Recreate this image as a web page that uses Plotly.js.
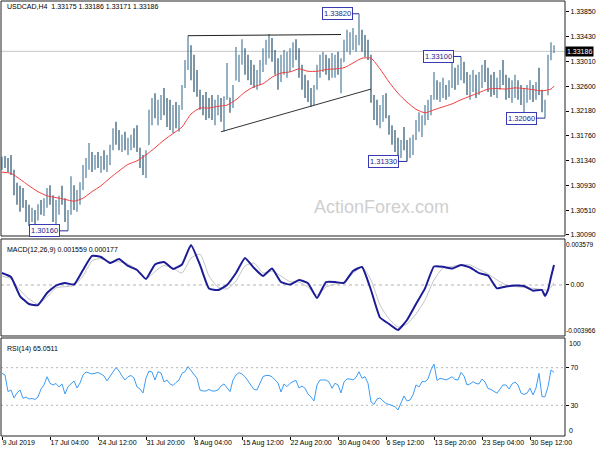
<!DOCTYPE html>
<html>
<head>
<meta charset="utf-8">
<script src="https://cdn.plot.ly/plotly-3.0.1.min.js"></script>
<style>html,body{margin:0;padding:0;background:#fff;}#chart{width:600px;height:450px;}</style>
</head>
<body>
<div id="chart"></div>
<script>
// ---------- DATA ----------
const tickIdx = [0,16,32,48,64,80,96,112,128,144,160,176];
const tickLabels = ["9 Jul 2019","17 Jul 04:00","24 Jul 12:00","31 Jul 20:00","8 Aug 04:00","15 Aug 12:00","22 Aug 20:00","30 Aug 04:00","6 Sep 12:00","13 Sep 20:00","23 Sep 04:00","30 Sep 12:00"];
const priceTicks = [1.3385,1.3343,1.3301,1.3260,1.3218,1.3176,1.3134,1.3093,1.3051,1.3009];

const open = [1.3128,1.3131,1.3129,1.3124,1.3112,1.3085,1.3072,1.3066,1.3060,1.3045,
1.3038,1.3045,1.3034,1.3055,1.3052,1.3066,1.3078,1.3065,1.3045,1.3058,
1.3070,1.3065,1.3040,1.3045,1.3085,1.3066,1.3075,1.3092,1.3118,1.3133,
1.3138,1.3128,1.3137,1.3130,1.3134,1.3128,1.3140,1.3158,1.3180,1.3172,
1.3165,1.3170,1.3160,1.3166,1.3175,1.3170,1.3152,1.3130,1.3125,1.3161,
1.3210,1.3225,1.3220,1.3222,1.3230,1.3225,1.3212,1.3208,1.3210,1.3206,
1.3222,1.3258,1.3298,1.3310,1.3290,1.3272,1.3250,1.3232,1.3228,1.3225,
1.3224,1.3220,1.3222,1.3224,1.3216,1.3238,1.3240,1.3235,1.3270,1.3295,
1.3302,1.3312,1.3295,1.3288,1.3280,1.3274,1.3278,1.3292,1.3310,1.3322,
1.3326,1.3310,1.3290,1.3286,1.3295,1.3298,1.3300,1.3308,1.3318,1.3310,
1.3287,1.3266,1.3256,1.3246,1.3243,1.3258,1.3285,1.3298,1.3298,1.3292,
1.3292,1.3294,1.3296,1.3290,1.3301,1.3328,1.3335,1.3336,1.3336,1.3343,
1.3346,1.3332,1.3325,1.3310,1.3240,1.3220,1.3212,1.3216,1.3225,1.3210,
1.3186,1.3172,1.3160,1.3154,1.3163,1.3160,1.3154,1.3158,1.3172,1.3194,
1.3196,1.3202,1.3216,1.3224,1.3240,1.3258,1.3252,1.3254,1.3254,1.3253,
1.3268,1.3277,1.3276,1.3285,1.3287,1.3274,1.3262,1.3263,1.3265,1.3262,
1.3271,1.3282,1.3279,1.3266,1.3263,1.3261,1.3264,1.3277,1.3270,1.3257,
1.3254,1.3256,1.3257,1.3250,1.3240,1.3242,1.3250,1.3251,1.3250,1.3260,
1.3250,1.3228,1.3245,1.3304,1.3318];

const high = [1.3141,1.3142,1.3139,1.3144,1.3119,1.3097,1.3092,1.3088,1.3068,1.3060,
1.3055,1.3051,1.3061,1.3068,1.3071,1.3088,1.3093,1.3076,1.3068,1.3075,
1.3092,1.3071,1.3051,1.3108,1.3093,1.3085,1.3098,1.3127,1.3139,1.3164,
1.3149,1.3144,1.3149,1.3142,1.3152,1.3144,1.3161,1.3189,1.3200,1.3186,
1.3178,1.3183,1.3173,1.3178,1.3189,1.3194,1.3156,1.3144,1.3152,1.3220,
1.3240,1.3248,1.3237,1.3245,1.3257,1.3240,1.3237,1.3228,1.3233,1.3228,
1.3262,1.3304,1.3345,1.3329,1.3313,1.3287,1.3254,1.3245,1.3250,1.3240,
1.3245,1.3237,1.3245,1.3240,1.3243,1.3299,1.3240,1.3262,1.3326,1.3313,
1.3339,1.3324,1.3313,1.3304,1.3296,1.3287,1.3304,1.3324,1.3338,1.3348,
1.3341,1.3321,1.3307,1.3313,1.3321,1.3318,1.3324,1.3334,1.3339,1.3324,
1.3296,1.3279,1.3270,1.3257,1.3262,1.3296,1.3313,1.3318,1.3313,1.3307,
1.3316,1.3313,1.3318,1.3307,1.3338,1.3355,1.3351,1.3358,1.3346,1.3382,
1.3355,1.3346,1.3338,1.3313,1.3245,1.3237,1.3228,1.3245,1.3248,1.3211,
1.3194,1.3186,1.3173,1.3169,1.3191,1.3169,1.3173,1.3178,1.3203,1.3216,
1.3211,1.3228,1.3237,1.3245,1.3284,1.3270,1.3267,1.3274,1.3262,1.3270,
1.3304,1.3291,1.3296,1.3310,1.3301,1.3284,1.3279,1.3287,1.3279,1.3284,
1.3296,1.3304,1.3291,1.3279,1.3284,1.3274,1.3287,1.3304,1.3279,1.3274,
1.3270,1.3279,1.3270,1.3262,1.3257,1.3262,1.3270,1.3262,1.3267,1.3291,
1.3254,1.3237,1.3313,1.3334,1.3329];

const low = [1.3119,1.3122,1.3115,1.3110,1.3076,1.3060,1.3048,1.3055,1.3031,1.3024,
1.3031,1.3021,1.3034,1.3043,1.3041,1.3055,1.3060,1.3031,1.3026,1.3043,
1.3060,1.3031,1.3016,1.3043,1.3051,1.3048,1.3060,1.3085,1.3105,1.3119,
1.3115,1.3119,1.3122,1.3114,1.3119,1.3115,1.3127,1.3152,1.3161,1.3152,
1.3149,1.3152,1.3144,1.3152,1.3156,1.3149,1.3122,1.3110,1.3105,1.3161,
1.3194,1.3206,1.3194,1.3203,1.3211,1.3191,1.3186,1.3181,1.3189,1.3183,
1.3220,1.3257,1.3287,1.3270,1.3250,1.3242,1.3220,1.3211,1.3203,1.3206,
1.3203,1.3194,1.3211,1.3200,1.3183,1.3237,1.3215,1.3223,1.3270,1.3267,
1.3296,1.3279,1.3270,1.3262,1.3257,1.3254,1.3262,1.3284,1.3296,1.3307,
1.3301,1.3279,1.3254,1.3267,1.3279,1.3274,1.3284,1.3291,1.3304,1.3274,
1.3254,1.3240,1.3233,1.3225,1.3228,1.3254,1.3274,1.3284,1.3279,1.3270,
1.3274,1.3274,1.3279,1.3248,1.3301,1.3318,1.3313,1.3321,1.3318,1.3329,
1.3318,1.3309,1.3304,1.3232,1.3203,1.3194,1.3189,1.3200,1.3206,1.3178,
1.3161,1.3149,1.3135,1.3139,1.3152,1.3133,1.3139,1.3144,1.3169,1.3183,
1.3174,1.3194,1.3203,1.3211,1.3237,1.3237,1.3233,1.3240,1.3237,1.3242,
1.3257,1.3254,1.3262,1.3270,1.3265,1.3245,1.3237,1.3250,1.3240,1.3245,
1.3257,1.3267,1.3250,1.3242,1.3245,1.3240,1.3254,1.3262,1.3237,1.3240,
1.3232,1.3240,1.3237,1.3228,1.3215,1.3232,1.3237,1.3233,1.3237,1.3245,
1.3216,1.3206,1.3245,1.3304,1.3316];

const close = [1.3131,1.3129,1.3124,1.3112,1.3085,1.3072,1.3066,1.3060,1.3045,1.3038,
1.3045,1.3030,1.3055,1.3052,1.3066,1.3078,1.3065,1.3045,1.3058,1.3070,
1.3065,1.3040,1.3045,1.3085,1.3066,1.3075,1.3092,1.3118,1.3133,1.3138,
1.3128,1.3137,1.3130,1.3134,1.3128,1.3140,1.3158,1.3180,1.3172,1.3165,
1.3170,1.3160,1.3166,1.3175,1.3170,1.3152,1.3130,1.3125,1.3150,1.3210,
1.3225,1.3220,1.3222,1.3230,1.3225,1.3212,1.3208,1.3210,1.3206,1.3222,
1.3258,1.3298,1.3310,1.3290,1.3272,1.3250,1.3232,1.3228,1.3225,1.3224,
1.3220,1.3222,1.3224,1.3216,1.3238,1.3245,1.3235,1.3258,1.3295,1.3302,
1.3312,1.3295,1.3288,1.3280,1.3274,1.3278,1.3292,1.3310,1.3322,1.3326,
1.3310,1.3290,1.3286,1.3295,1.3298,1.3300,1.3308,1.3318,1.3310,1.3287,
1.3266,1.3256,1.3246,1.3243,1.3258,1.3285,1.3298,1.3298,1.3292,1.3292,
1.3294,1.3296,1.3290,1.3300,1.3328,1.3335,1.3336,1.3336,1.3343,1.3346,
1.3332,1.3325,1.3310,1.3240,1.3220,1.3212,1.3216,1.3225,1.3210,1.3186,
1.3172,1.3160,1.3154,1.3163,1.3160,1.3154,1.3158,1.3172,1.3194,1.3196,
1.3202,1.3216,1.3224,1.3240,1.3258,1.3252,1.3254,1.3254,1.3253,1.3268,
1.3277,1.3276,1.3285,1.3287,1.3274,1.3262,1.3263,1.3265,1.3262,1.3271,
1.3282,1.3279,1.3266,1.3263,1.3261,1.3264,1.3277,1.3270,1.3257,1.3254,
1.3256,1.3257,1.3250,1.3240,1.3242,1.3250,1.3251,1.3250,1.3260,1.3250,
1.3228,1.3235,1.3300,1.3322,1.33186];

const maIdx = [0,3,6,9,12,15,18,21,24,27,30,33,36,39,42,45,48,51,54,57,60,63,66,69,72,75,78,81,84,87,90,93,96,99,102,105,108,111,114,117,120,123,126,129,132,135,138,141,144,147,150,153,156,159,162,165,168,171,174,177,180,183,184];
const ma = [1.3115,1.3113,1.3103,1.3092,1.3082,1.3075,1.3072,1.3069,1.3066,1.3071,
1.3082,1.3092,1.3105,1.3117,1.3128,1.3134,1.3144,1.3156,1.3169,1.3180,
1.3191,1.3213,1.3223,1.3223,1.3226,1.3228,1.3237,1.3250,1.3259,1.3264,
1.3275,1.3282,1.3284,1.3289,1.3285,1.3285,1.3288,1.3289,1.3291,1.3299,
1.3307,1.3307,1.3289,1.3267,1.3248,1.3233,1.3221,1.3215,1.3220,1.3225,
1.3230,1.3237,1.3243,1.3249,1.3255,1.3256,1.3255,1.3257,1.3256,1.3254,
1.3252,1.3255,1.3260];

const macdIdx = [0,3,6,9,12,15,18,21,24,27,30,33,36,39,42,45,48,51,54,57,60,63,66,69,72,75,78,81,84,87,90,93,96,99,102,105,108,111,114,117,120,123,126,129,132,135,138,141,144,147,150,153,156,159,162,165,168,171,174,177,180,181,182,183,184];
const macdMain = [0.00093,0.00062,-0.00086,-0.00148,-0.00156,-0.00062,-0.00004,0.00016,0.00004,0.00117,
0.00226,0.00218,0.00171,0.00202,0.00148,0.00117,0.00047,0.0016,0.00179,0.00125,
0.0016,0.00311,0.00156,-0.00027,-0.00039,0.0,0.00093,0.0021,0.00132,0.0007,
0.00128,0.00023,0.00004,0.00039,0.00013,-0.00101,0.00023,0.00023,0.00016,0.00109,
0.0014,-0.00039,-0.00253,-0.00303,-0.0035,-0.00272,-0.00148,-0.00026,0.00144,0.00142,
0.00128,0.00156,0.00136,0.00093,0.00074,-0.00026,-0.00012,-0.00004,-0.00008,-0.00044,
-0.00039,-0.00086,-0.00039,0.00062,0.001559];
const macdSignal = [0.0007,0.00047,-0.00039,-0.00109,-0.00148,-0.00093,-0.00023,-0.00013,-0.00004,0.0007,
0.00187,0.00206,0.00181,0.00181,0.00163,0.00117,0.00047,0.00105,0.00152,0.0013,
0.00093,0.0021,0.0024,0.0007,-0.00016,-0.00031,0.00031,0.00148,0.00171,0.00093,
0.00109,0.0007,0.00026,0.00023,-0.00016,-0.00078,-0.00016,0.00008,0.00023,0.00091,
0.0014,0.00039,-0.00156,-0.00264,-0.00327,-0.00303,-0.00226,-0.00117,0.00039,0.00132,
0.00144,0.00156,0.00156,0.00122,0.00086,0.00039,0.0,-0.00012,-0.00019,-0.00026,
-0.00035,-0.00039,-0.00039,-0.00016,0.000177];

const rsi = [64.0,62.2,44.5,46.3,37.8,43.1,46.3,37.4,38.8,36.7,
37.2,36.2,38.8,47.3,51.6,60.4,53.4,51.6,53.2,49.5,
52.7,42.0,49.8,52.7,55.9,48.4,53.7,62.2,65.4,64.4,
63.3,64.0,64.9,63.3,61.2,55.9,60.1,65.4,70.2,66.5,
61.2,56.9,60.4,61.7,59.0,49.5,47.3,43.1,59.0,66.5,
65.4,56.9,65.7,64.4,54.8,56.9,52.7,51.1,54.3,56.9,
64.0,65.7,71.1,66.5,62.8,58.7,46.3,45.2,45.2,46.8,
45.2,45.2,46.3,50.5,52.7,48.1,44.5,56.9,62.2,64.7,
63.3,60.4,55.9,51.6,46.8,46.3,53.7,60.6,61.7,61.7,
60.4,57.4,53.7,44.1,52.7,49.8,53.2,55.3,56.4,48.4,
50.5,48.1,42.0,38.8,34.6,51.6,56.9,56.9,56.9,54.8,
48.1,53.4,51.6,43.1,54.8,58.0,58.0,56.9,59.6,65.7,
58.7,60.4,53.4,33.5,30.9,36.7,37.8,34.6,31.9,30.9,
29.8,28.5,25.0,33.5,39.9,34.6,35.6,41.0,51.6,49.5,
55.1,55.1,58.0,67.6,73.9,56.4,58.7,58.0,56.9,58.5,
60.4,57.4,56.9,64.9,61.2,51.6,52.7,55.1,53.2,52.7,
58.0,54.8,47.9,46.8,45.2,42.8,47.3,51.6,51.6,47.3,
52.7,54.8,51.6,43.1,41.5,42.8,48.1,41.0,48.4,64.0,
39.1,39.1,49.8,67.6,65.05];
const rsiLevels = [70, 30];

// trend lines drawn on the chart (bar index, price)
const resistX = [62, 113];
const resistY = [1.3345, 1.3347];
const supportX = [73, 123];
const supportY = [1.3183, 1.3255];

// marked swing points: [bar index, 'high'|'low', label offset px]
const swings = [[119,'high',-22],[153,'high',-23],[181,'low',-24],[135,'low',-24],[22,'low',-24]];

const headerText = "USDCAD,H4  1.33175 1.33186 1.33171 1.33186";
const macdText = "MACD(12,26,9) 0.001559 0.000177";
const rsiText = "RSI(14) 65.0511";
const macdMax = 0.003579, macdMin = -0.003966;

// ---------- PLOT ----------
const barIdx = close.map((_, i) => i);
const last = close[close.length - 1];
const FONT = 'Liberation Sans, Arial, sans-serif';

const traces = [
  {type:'ohlc', x:barIdx, open:open, high:high, low:low, close:close, xaxis:'x', yaxis:'y',
   increasing:{line:{color:'#4f7e9c', width:1.2}},
   decreasing:{line:{color:'#27536f', width:1.2}},
   tickwidth:0.2, hoverinfo:'skip'},
  {type:'scatter', mode:'lines', x:maIdx, y:ma, yaxis:'y', line:{color:'#f04040', width:1, shape:'spline', smoothing:0.6}, hoverinfo:'skip'},
  {type:'scatter', mode:'lines', x:resistX, y:resistY, yaxis:'y', line:{color:'#222', width:1}, hoverinfo:'skip'},
  {type:'scatter', mode:'lines', x:supportX, y:supportY, yaxis:'y', line:{color:'#333', width:1}, hoverinfo:'skip'},
  {type:'scatter', mode:'lines', x:macdIdx, y:macdSignal, yaxis:'y2', line:{color:'#c4c4c4', width:1, shape:'spline', smoothing:0.6}, hoverinfo:'skip'},
  {type:'scatter', mode:'lines', x:macdIdx, y:macdMain, yaxis:'y2', line:{color:'#1c1c96', width:2, shape:'spline', smoothing:0.4}, hoverinfo:'skip'},
  {type:'scatter', mode:'lines', x:barIdx, y:rsi, yaxis:'y3', line:{color:'#3d9cf5', width:1}, hoverinfo:'skip'}
];

const axisCommon = {showgrid:false, zeroline:false, showline:false, ticks:'outside', ticklen:3, tickcolor:'#000', side:'right', anchor:'x', fixedrange:true, tickfont:{size:7, color:'#000', family:FONT}};

const shapes = [];
shapes.push({type:'line', xref:'paper', x0:0, x1:1, yref:'y', y0:last, y1:last, line:{color:'#c8c8c8', width:1}, layer:'below'});
shapes.push({type:'line', xref:'paper', x0:0, x1:1, yref:'y2', y0:0, y1:0, line:{color:'#b4b4b4', width:1, dash:'3px,3px'}, layer:'below'});
rsiLevels.forEach(v => shapes.push({type:'line', xref:'paper', x0:0, x1:1, yref:'y3', y0:v, y1:v, line:{color:'#b4b4b4', width:1, dash:'2px,3px'}, layer:'below'}));
['y domain','y2 domain','y3 domain'].forEach(r => shapes.push({type:'rect', xref:'paper', x0:0, x1:1, yref:r, y0:0, y1:1, line:{color:'#222', width:1}, fillcolor:'rgba(0,0,0,0)'}));

const annotations = [
  {xref:'paper', yref:'paper', x:0.007, y:0.987, xanchor:'left', yanchor:'middle', text:headerText, showarrow:false, font:{size:7, color:'#000', family:FONT}},
  {xref:'paper', yref:'y2 domain', x:0.007, y:0.95, xanchor:'left', yanchor:'top', text:macdText, showarrow:false, font:{size:7, color:'#000', family:FONT}},
  {xref:'paper', yref:'y3 domain', x:0.007, y:0.95, xanchor:'left', yanchor:'top', text:rsiText, showarrow:false, font:{size:7, color:'#000', family:FONT}},
  {xref:'paper', yref:'paper', x:0.6755, y:0.526, xanchor:'center', yanchor:'middle', text:'ActionForex.com', showarrow:false, font:{size:18, color:'#cfcfcf', family:FONT}},
  {xref:'paper', yref:'y', x:1, xanchor:'left', xshift:0, y:last, yanchor:'middle', text:last.toFixed(5), showarrow:false, bgcolor:'#000', font:{size:7, color:'#fff', family:FONT}, borderpad:1},
  {xref:'paper', yref:'y2', x:1, xanchor:'left', xshift:-1, y:macdMax, yanchor:'top', text:macdMax.toFixed(6), showarrow:false, font:{size:6.5, color:'#000', family:FONT}},
  {xref:'paper', yref:'y2', x:1, xanchor:'left', xshift:-1, y:macdMin, yanchor:'bottom', text:macdMin.toFixed(6), showarrow:false, font:{size:6.5, color:'#000', family:FONT}},
  {xref:'paper', yref:'y3 domain', x:1, xanchor:'left', xshift:2, y:1, yanchor:'top', text:'100', showarrow:false, font:{size:7, color:'#000', family:FONT}},
  {xref:'paper', yref:'y3 domain', x:1, xanchor:'left', xshift:2, y:0, yanchor:'bottom', text:'0', showarrow:false, font:{size:7, color:'#000', family:FONT}}
];
swings.forEach(([i, kind, off]) => {
  const v = kind === 'high' ? high[i] : low[i];
  annotations.push({x:i, y:v, xref:'x', yref:'y', text:v.toFixed(5), showarrow:true, arrowhead:0, arrowwidth:1, arrowcolor:'#2a2aa0', ax:off, ay:0, bordercolor:'#3a3ab4', borderwidth:1, borderpad:1, bgcolor:'#fff', font:{size:7.5, color:'#1c1c8c', family:FONT}});
});

const layout = {
  width:600, height:450,
  margin:{l:1, r:35, t:1, b:14, pad:0},
  paper_bgcolor:'#fff', plot_bgcolor:'#fff',
  showlegend:false, hovermode:false,
  font:{family:FONT, size:7, color:'#000'},
  xaxis:{range:[-0.333, 187.667], anchor:'y3', tickvals:tickIdx, ticktext:tickLabels, ticks:'outside', ticklen:3, tickcolor:'#000',
         tickangle:0, ticklabelposition:'outside right', ticklabeloverflow:'allow', showgrid:false, zeroline:false, showline:false, fixedrange:true,
         rangeslider:{visible:false}, tickfont:{size:7, color:'#000', family:FONT}},
  yaxis:Object.assign({}, axisCommon, {domain:[0.4598, 1], range:[1.30073, 1.34035], tickvals:priceTicks, tickformat:'.5f'}),
  yaxis2:Object.assign({}, axisCommon, {domain:[0.2299, 0.4529], range:[macdMin, macdMax], tickvals:[0], ticktext:['0.00']}),
  yaxis3:Object.assign({}, axisCommon, {domain:[0, 0.2253], range:[-2.7, 101.6], tickvals:rsiLevels}),
  shapes:shapes,
  annotations:annotations
};

Plotly.newPlot('chart', traces, layout, {displayModeBar:false, staticPlot:true});
</script>
</body>
</html>
